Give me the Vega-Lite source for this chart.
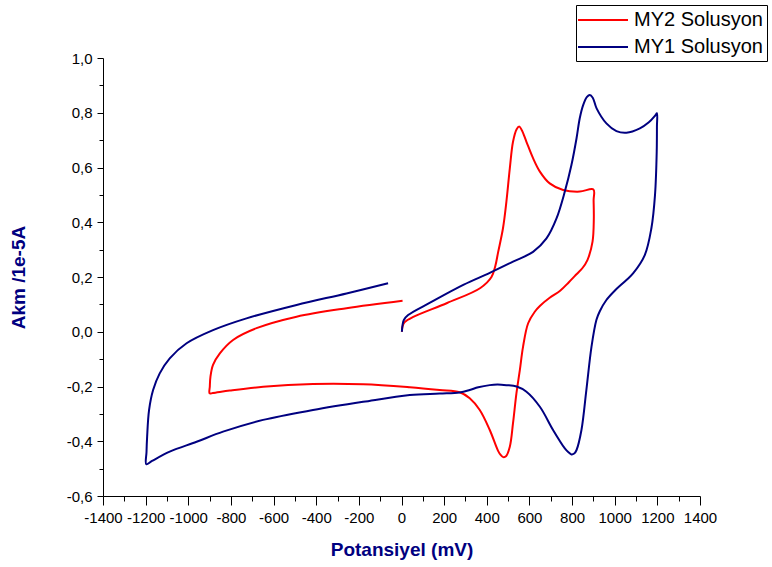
{
  "$schema": "https://vega.github.io/schema/vega-lite/v6.json",
  "autosize": "none",
  "width": 597,
  "height": 438,
  "padding": {"left": 103, "top": 58, "right": 72, "bottom": 71},
  "background": "white",
  "config": {"view": {"stroke": null}, "font": "Liberation Sans"},
  "data": {"values": [
    {"s":"MY2 Solusyon","i":0,"x":2,"y":0.0},
    {"s":"MY2 Solusyon","i":1,"x":5,"y":0.02},
    {"s":"MY2 Solusyon","i":2,"x":15,"y":0.035},
    {"s":"MY2 Solusyon","i":3,"x":58,"y":0.055},
    {"s":"MY2 Solusyon","i":4,"x":214,"y":0.105},
    {"s":"MY2 Solusyon","i":5,"x":370,"y":0.16},
    {"s":"MY2 Solusyon","i":6,"x":422,"y":0.2},
    {"s":"MY2 Solusyon","i":7,"x":440,"y":0.24},
    {"s":"MY2 Solusyon","i":8,"x":453,"y":0.29},
    {"s":"MY2 Solusyon","i":9,"x":476,"y":0.378},
    {"s":"MY2 Solusyon","i":10,"x":492,"y":0.475},
    {"s":"MY2 Solusyon","i":11,"x":508,"y":0.597},
    {"s":"MY2 Solusyon","i":12,"x":523,"y":0.694},
    {"s":"MY2 Solusyon","i":13,"x":540,"y":0.74},
    {"s":"MY2 Solusyon","i":14,"x":552,"y":0.75},
    {"s":"MY2 Solusyon","i":15,"x":565,"y":0.735},
    {"s":"MY2 Solusyon","i":16,"x":586,"y":0.694},
    {"s":"MY2 Solusyon","i":17,"x":617,"y":0.634},
    {"s":"MY2 Solusyon","i":18,"x":649,"y":0.585},
    {"s":"MY2 Solusyon","i":19,"x":695,"y":0.542},
    {"s":"MY2 Solusyon","i":20,"x":758,"y":0.518},
    {"s":"MY2 Solusyon","i":21,"x":836,"y":0.512},
    {"s":"MY2 Solusyon","i":22,"x":900,"y":0.52},
    {"s":"MY2 Solusyon","i":23,"x":901,"y":0.48},
    {"s":"MY2 Solusyon","i":24,"x":902,"y":0.414},
    {"s":"MY2 Solusyon","i":25,"x":896,"y":0.329},
    {"s":"MY2 Solusyon","i":26,"x":872,"y":0.262},
    {"s":"MY2 Solusyon","i":27,"x":848,"y":0.232},
    {"s":"MY2 Solusyon","i":28,"x":822,"y":0.211},
    {"s":"MY2 Solusyon","i":29,"x":785,"y":0.181},
    {"s":"MY2 Solusyon","i":30,"x":744,"y":0.15},
    {"s":"MY2 Solusyon","i":31,"x":695,"y":0.124},
    {"s":"MY2 Solusyon","i":32,"x":650,"y":0.095},
    {"s":"MY2 Solusyon","i":33,"x":625,"y":0.073},
    {"s":"MY2 Solusyon","i":34,"x":594,"y":0.031},
    {"s":"MY2 Solusyon","i":35,"x":570,"y":-0.055},
    {"s":"MY2 Solusyon","i":36,"x":555,"y":-0.14},
    {"s":"MY2 Solusyon","i":37,"x":539,"y":-0.225},
    {"s":"MY2 Solusyon","i":38,"x":523,"y":-0.334},
    {"s":"MY2 Solusyon","i":39,"x":508,"y":-0.42},
    {"s":"MY2 Solusyon","i":40,"x":490,"y":-0.455},
    {"s":"MY2 Solusyon","i":41,"x":477,"y":-0.458},
    {"s":"MY2 Solusyon","i":42,"x":465,"y":-0.45},
    {"s":"MY2 Solusyon","i":43,"x":453,"y":-0.435},
    {"s":"MY2 Solusyon","i":44,"x":414,"y":-0.359},
    {"s":"MY2 Solusyon","i":45,"x":367,"y":-0.286},
    {"s":"MY2 Solusyon","i":46,"x":320,"y":-0.243},
    {"s":"MY2 Solusyon","i":47,"x":273,"y":-0.221},
    {"s":"MY2 Solusyon","i":48,"x":179,"y":-0.213},
    {"s":"MY2 Solusyon","i":49,"x":39,"y":-0.203},
    {"s":"MY2 Solusyon","i":50,"x":-180,"y":-0.192},
    {"s":"MY2 Solusyon","i":51,"x":-415,"y":-0.191},
    {"s":"MY2 Solusyon","i":52,"x":-649,"y":-0.201},
    {"s":"MY2 Solusyon","i":53,"x":-805,"y":-0.215},
    {"s":"MY2 Solusyon","i":54,"x":-885,"y":-0.224},
    {"s":"MY2 Solusyon","i":55,"x":-900,"y":-0.225},
    {"s":"MY2 Solusyon","i":56,"x":-899,"y":-0.2},
    {"s":"MY2 Solusyon","i":57,"x":-896,"y":-0.164},
    {"s":"MY2 Solusyon","i":58,"x":-884,"y":-0.121},
    {"s":"MY2 Solusyon","i":59,"x":-852,"y":-0.079},
    {"s":"MY2 Solusyon","i":60,"x":-790,"y":-0.03},
    {"s":"MY2 Solusyon","i":61,"x":-680,"y":0.013},
    {"s":"MY2 Solusyon","i":62,"x":-492,"y":0.055},
    {"s":"MY2 Solusyon","i":63,"x":-258,"y":0.086},
    {"s":"MY2 Solusyon","i":64,"x":5,"y":0.113},
    {"s":"MY1 Solusyon","i":0,"x":2,"y":0.0},
    {"s":"MY1 Solusyon","i":1,"x":5,"y":0.025},
    {"s":"MY1 Solusyon","i":2,"x":11,"y":0.043},
    {"s":"MY1 Solusyon","i":3,"x":31,"y":0.061},
    {"s":"MY1 Solusyon","i":4,"x":136,"y":0.107},
    {"s":"MY1 Solusyon","i":5,"x":292,"y":0.172},
    {"s":"MY1 Solusyon","i":6,"x":414,"y":0.215},
    {"s":"MY1 Solusyon","i":7,"x":523,"y":0.256},
    {"s":"MY1 Solusyon","i":8,"x":617,"y":0.292},
    {"s":"MY1 Solusyon","i":9,"x":680,"y":0.341},
    {"s":"MY1 Solusyon","i":10,"x":727,"y":0.414},
    {"s":"MY1 Solusyon","i":11,"x":766,"y":0.512},
    {"s":"MY1 Solusyon","i":12,"x":797,"y":0.609},
    {"s":"MY1 Solusyon","i":13,"x":821,"y":0.707},
    {"s":"MY1 Solusyon","i":14,"x":836,"y":0.78},
    {"s":"MY1 Solusyon","i":15,"x":852,"y":0.828},
    {"s":"MY1 Solusyon","i":16,"x":870,"y":0.858},
    {"s":"MY1 Solusyon","i":17,"x":883,"y":0.865},
    {"s":"MY1 Solusyon","i":18,"x":897,"y":0.855},
    {"s":"MY1 Solusyon","i":19,"x":915,"y":0.816},
    {"s":"MY1 Solusyon","i":20,"x":961,"y":0.761},
    {"s":"MY1 Solusyon","i":21,"x":1008,"y":0.733},
    {"s":"MY1 Solusyon","i":22,"x":1055,"y":0.727},
    {"s":"MY1 Solusyon","i":23,"x":1118,"y":0.743},
    {"s":"MY1 Solusyon","i":24,"x":1160,"y":0.765},
    {"s":"MY1 Solusyon","i":25,"x":1190,"y":0.79},
    {"s":"MY1 Solusyon","i":26,"x":1198,"y":0.798},
    {"s":"MY1 Solusyon","i":27,"x":1198,"y":0.75},
    {"s":"MY1 Solusyon","i":28,"x":1197,"y":0.658},
    {"s":"MY1 Solusyon","i":29,"x":1189,"y":0.5},
    {"s":"MY1 Solusyon","i":30,"x":1172,"y":0.378},
    {"s":"MY1 Solusyon","i":31,"x":1141,"y":0.28},
    {"s":"MY1 Solusyon","i":32,"x":1086,"y":0.213},
    {"s":"MY1 Solusyon","i":33,"x":1055,"y":0.189},
    {"s":"MY1 Solusyon","i":34,"x":1000,"y":0.15},
    {"s":"MY1 Solusyon","i":35,"x":961,"y":0.116},
    {"s":"MY1 Solusyon","i":36,"x":930,"y":0.075},
    {"s":"MY1 Solusyon","i":37,"x":914,"y":0.043},
    {"s":"MY1 Solusyon","i":38,"x":891,"y":-0.055},
    {"s":"MY1 Solusyon","i":39,"x":867,"y":-0.213},
    {"s":"MY1 Solusyon","i":40,"x":844,"y":-0.359},
    {"s":"MY1 Solusyon","i":41,"x":821,"y":-0.432},
    {"s":"MY1 Solusyon","i":42,"x":810,"y":-0.445},
    {"s":"MY1 Solusyon","i":43,"x":797,"y":-0.448},
    {"s":"MY1 Solusyon","i":44,"x":783,"y":-0.44},
    {"s":"MY1 Solusyon","i":45,"x":766,"y":-0.426},
    {"s":"MY1 Solusyon","i":46,"x":711,"y":-0.359},
    {"s":"MY1 Solusyon","i":47,"x":649,"y":-0.274},
    {"s":"MY1 Solusyon","i":48,"x":586,"y":-0.219},
    {"s":"MY1 Solusyon","i":49,"x":540,"y":-0.2},
    {"s":"MY1 Solusyon","i":50,"x":492,"y":-0.195},
    {"s":"MY1 Solusyon","i":51,"x":450,"y":-0.193},
    {"s":"MY1 Solusyon","i":52,"x":414,"y":-0.195},
    {"s":"MY1 Solusyon","i":53,"x":360,"y":-0.203},
    {"s":"MY1 Solusyon","i":54,"x":320,"y":-0.213},
    {"s":"MY1 Solusyon","i":55,"x":273,"y":-0.222},
    {"s":"MY1 Solusyon","i":56,"x":179,"y":-0.226},
    {"s":"MY1 Solusyon","i":57,"x":39,"y":-0.231},
    {"s":"MY1 Solusyon","i":58,"x":-180,"y":-0.256},
    {"s":"MY1 Solusyon","i":59,"x":-415,"y":-0.286},
    {"s":"MY1 Solusyon","i":60,"x":-649,"y":-0.322},
    {"s":"MY1 Solusyon","i":61,"x":-837,"y":-0.365},
    {"s":"MY1 Solusyon","i":62,"x":-961,"y":-0.402},
    {"s":"MY1 Solusyon","i":63,"x":-1087,"y":-0.438},
    {"s":"MY1 Solusyon","i":64,"x":-1170,"y":-0.472},
    {"s":"MY1 Solusyon","i":65,"x":-1197,"y":-0.484},
    {"s":"MY1 Solusyon","i":66,"x":-1196,"y":-0.44},
    {"s":"MY1 Solusyon","i":67,"x":-1193,"y":-0.383},
    {"s":"MY1 Solusyon","i":68,"x":-1184,"y":-0.286},
    {"s":"MY1 Solusyon","i":69,"x":-1165,"y":-0.213},
    {"s":"MY1 Solusyon","i":70,"x":-1134,"y":-0.152},
    {"s":"MY1 Solusyon","i":71,"x":-1087,"y":-0.097},
    {"s":"MY1 Solusyon","i":72,"x":-1008,"y":-0.042},
    {"s":"MY1 Solusyon","i":73,"x":-884,"y":0.006},
    {"s":"MY1 Solusyon","i":74,"x":-727,"y":0.049},
    {"s":"MY1 Solusyon","i":75,"x":-492,"y":0.098},
    {"s":"MY1 Solusyon","i":76,"x":-258,"y":0.14},
    {"s":"MY1 Solusyon","i":77,"x":-63,"y":0.177}
  ]},
  "resolve": {"axis": {"x": "independent", "y": "independent"}},
  "layer": [
    {
      "mark": {"type": "line", "strokeWidth": 2, "clip": true, "interpolate": "catmull-rom"},
      "encoding": {
        "x": {"field": "x", "type": "quantitative",
          "scale": {"domain": [-1400, 1400], "nice": false, "zero": false},
          "axis": {"orient": "bottom", "values": [-1400,-1200,-1000,-800,-600,-400,-200,0,200,400,600,800,1000,1200,1400],
            "labelExpr": "datum.value + ''", "labelFont": "Liberation Sans", "labelFontSize": 15, "labelColor": "black",
            "tickColor": "black", "tickSize": 9, "tickWidth": 1, "domainColor": "black", "domainWidth": 1,
            "labelPadding": 5, "labelOverlap": false, "labelFlush": false, "labelBound": false, "grid": false,
            "title": "Potansiyel (mV)", "titleFont": "Liberation Sans", "titleFontSize": 19, "titleFontWeight": "bold",
            "titleColor": "#000080", "titlePadding": 15}},
        "y": {"field": "y", "type": "quantitative",
          "scale": {"domain": [-0.6, 1.0], "nice": false, "zero": false},
          "axis": {"orient": "left", "values": [-0.6,-0.4,-0.2,0,0.2,0.4,0.6,0.8,1.0],
            "labelExpr": "replace(replace(format(datum.value, '.1f'), '\u2212', '-'), '.', ',')",
            "labelFont": "Liberation Sans", "labelFontSize": 15, "labelColor": "black",
            "tickColor": "black", "tickSize": 6, "tickWidth": 1, "domainColor": "black", "domainWidth": 1,
            "labelPadding": 5, "labelOverlap": false, "labelFlush": false, "labelBound": false, "grid": false,
            "title": "Akm /1e-5A", "titleFont": "Liberation Sans", "titleFontSize": 19, "titleFontWeight": "bold",
            "titleColor": "#000080", "titlePadding": 38}},
        "order": {"field": "i", "type": "quantitative"},
        "color": {"field": "s", "type": "nominal",
          "scale": {"domain": ["MY2 Solusyon", "MY1 Solusyon"], "range": ["#FF0000", "#000080"]},
          "legend": {"orient": "none", "legendX": 473, "legendY": -53, "title": null,
            "strokeColor": "black", "fillColor": "white", "padding": 4,
            "symbolType": "M-2.5,0H2.5", "symbolSize": 400, "symbolStrokeWidth": 2, "symbolOffset": 12,
            "labelOffset": 20, "labelFontSize": 20, "labelFont": "Liberation Sans", "labelColor": "black",
            "rowPadding": 6}}
      }
    },
    {
      "mark": {"type": "point", "opacity": 0},
      "encoding": {
        "x": {"field": "x", "type": "quantitative",
          "axis": {"orient": "top", "offset": -438, "values": [-1300,-1100,-900,-700,-500,-300,-100,100,300,500,700,900,1100,1300],
            "labels": false, "domain": false, "grid": false, "title": null,
            "tickColor": "black", "tickSize": -5, "tickWidth": 1}},
        "y": {"field": "y", "type": "quantitative",
          "axis": {"orient": "right", "offset": -597, "values": [-0.5,-0.3,-0.1,0.1,0.3,0.5,0.7,0.9],
            "labels": false, "domain": false, "grid": false, "title": null,
            "tickColor": "black", "tickSize": -4, "tickWidth": 1}}
      }
    }
  ]
}
